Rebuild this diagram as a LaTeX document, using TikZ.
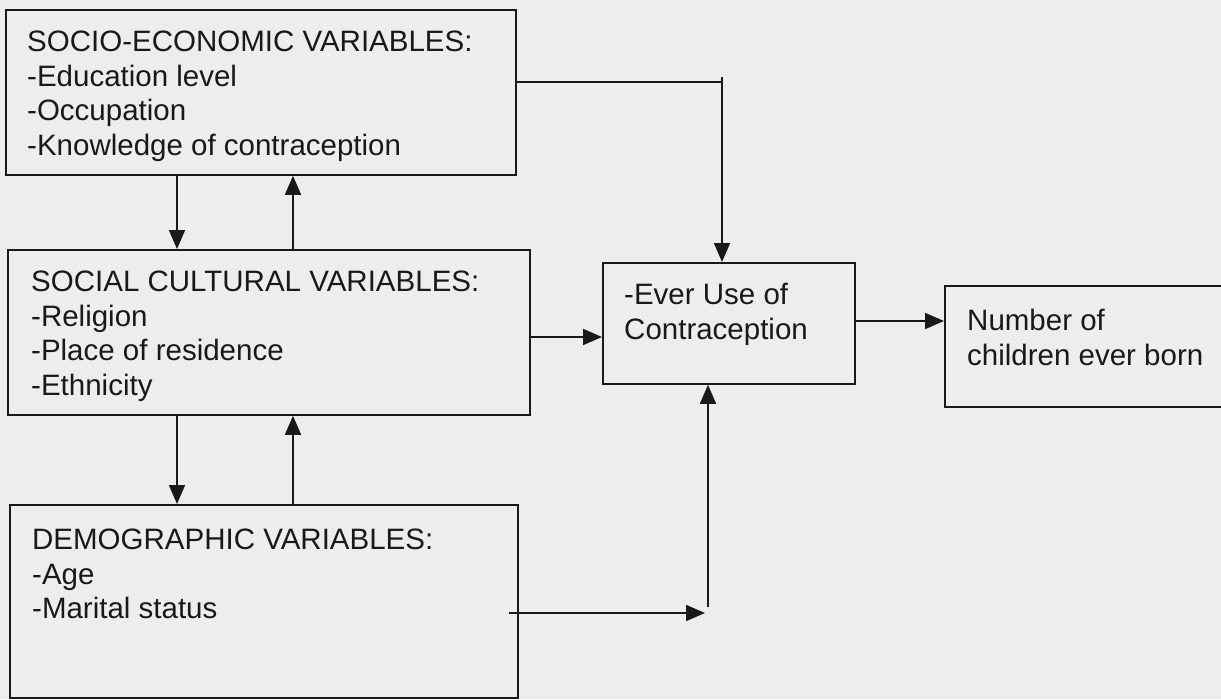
\documentclass[tikz,border=0pt]{standalone}
\usepackage{fontspec}
\setmainfont{Liberation Sans}
\usetikzlibrary{arrows.meta}

\tikzset{
	box/.style={draw=black!90, line width=1.8pt, anchor=north west, inner sep=0pt},
	txt/.style={anchor=north west, align=left, inner sep=0pt, text=black!90,
		font=\fontsize{29.5}{34.5}\selectfont},
	ln/.style={draw=black!90, line width=1.8pt},
	arr/.style={ln, -{Triangle[length=19pt,width=16pt]}},
}

\begin{document}
\begin{tikzpicture}[x=1pt,y=-1pt]
	\fill[black!7] (0,0) rectangle (1221,699);
	\useasboundingbox (0,0) rectangle (1221,699);

	% boxes
	\node[box, minimum width=510pt, minimum height=165pt] (soc) at (5,9) {};
	\node[box, minimum width=522pt, minimum height=165pt] (cul) at (7,249) {};
	\node[box, minimum width=508pt, minimum height=193pt] (dem) at (9,504) {};
	\node[box, minimum width=252pt, minimum height=121pt] (use) at (602,262) {};
	\node[box, minimum width=290pt, minimum height=121pt] (nb) at (944,285) {};

	% texts
	\node[txt] (socT) at (27,31) {SOCIO-ECONOMIC VARIABLES:\\-Education level\\-Occupation\\-Knowledge of contraception};
	\node[txt] (culT) at (31,271) {SOCIAL CULTURAL VARIABLES:\\-Religion\\-Place of residence\\-Ethnicity};
	\node[txt] (demT) at (32,529) {DEMOGRAPHIC VARIABLES:\\-Age\\-Marital status};
	\node[txt] (useT) at (624,283) {-Ever Use of\\Contraception};
	\node[txt] (nbT) at (967,309) {Number of\\children ever born};

	% columns and turning points
	\coordinate (dn) at (177,0);
	\coordinate (up) at (293,0);
	\coordinate (top) at (722,82);
	\coordinate (jn) at (708,613);

	\draw [arr] (soc.south -| dn) -- (cul.north -| dn);
	\draw [arr] (cul.north -| up) -- (soc.south -| up);
	\draw [arr] (cul.south -| dn) -- (dem.north -| dn);
	\draw [arr] (dem.north -| up) -- (cul.south -| up);

	\draw [arr] (soc.east |- top) -| (use.north -| top);
	\draw [ln] (top) -- ++(0,-5);
	\draw [arr] (cul.east |- 0,337) -- (use.west |- 0,337);
	\draw [arr] ([xshift=-10pt]dem.east |- jn) -- ([xshift=-3pt]jn);
	\draw [arr] ([yshift=6pt]jn) -- (use.south -| jn);
	\draw [arr] (use.east |- 0,321) -- (nb.west |- 0,321);
\end{tikzpicture}
\end{document}
